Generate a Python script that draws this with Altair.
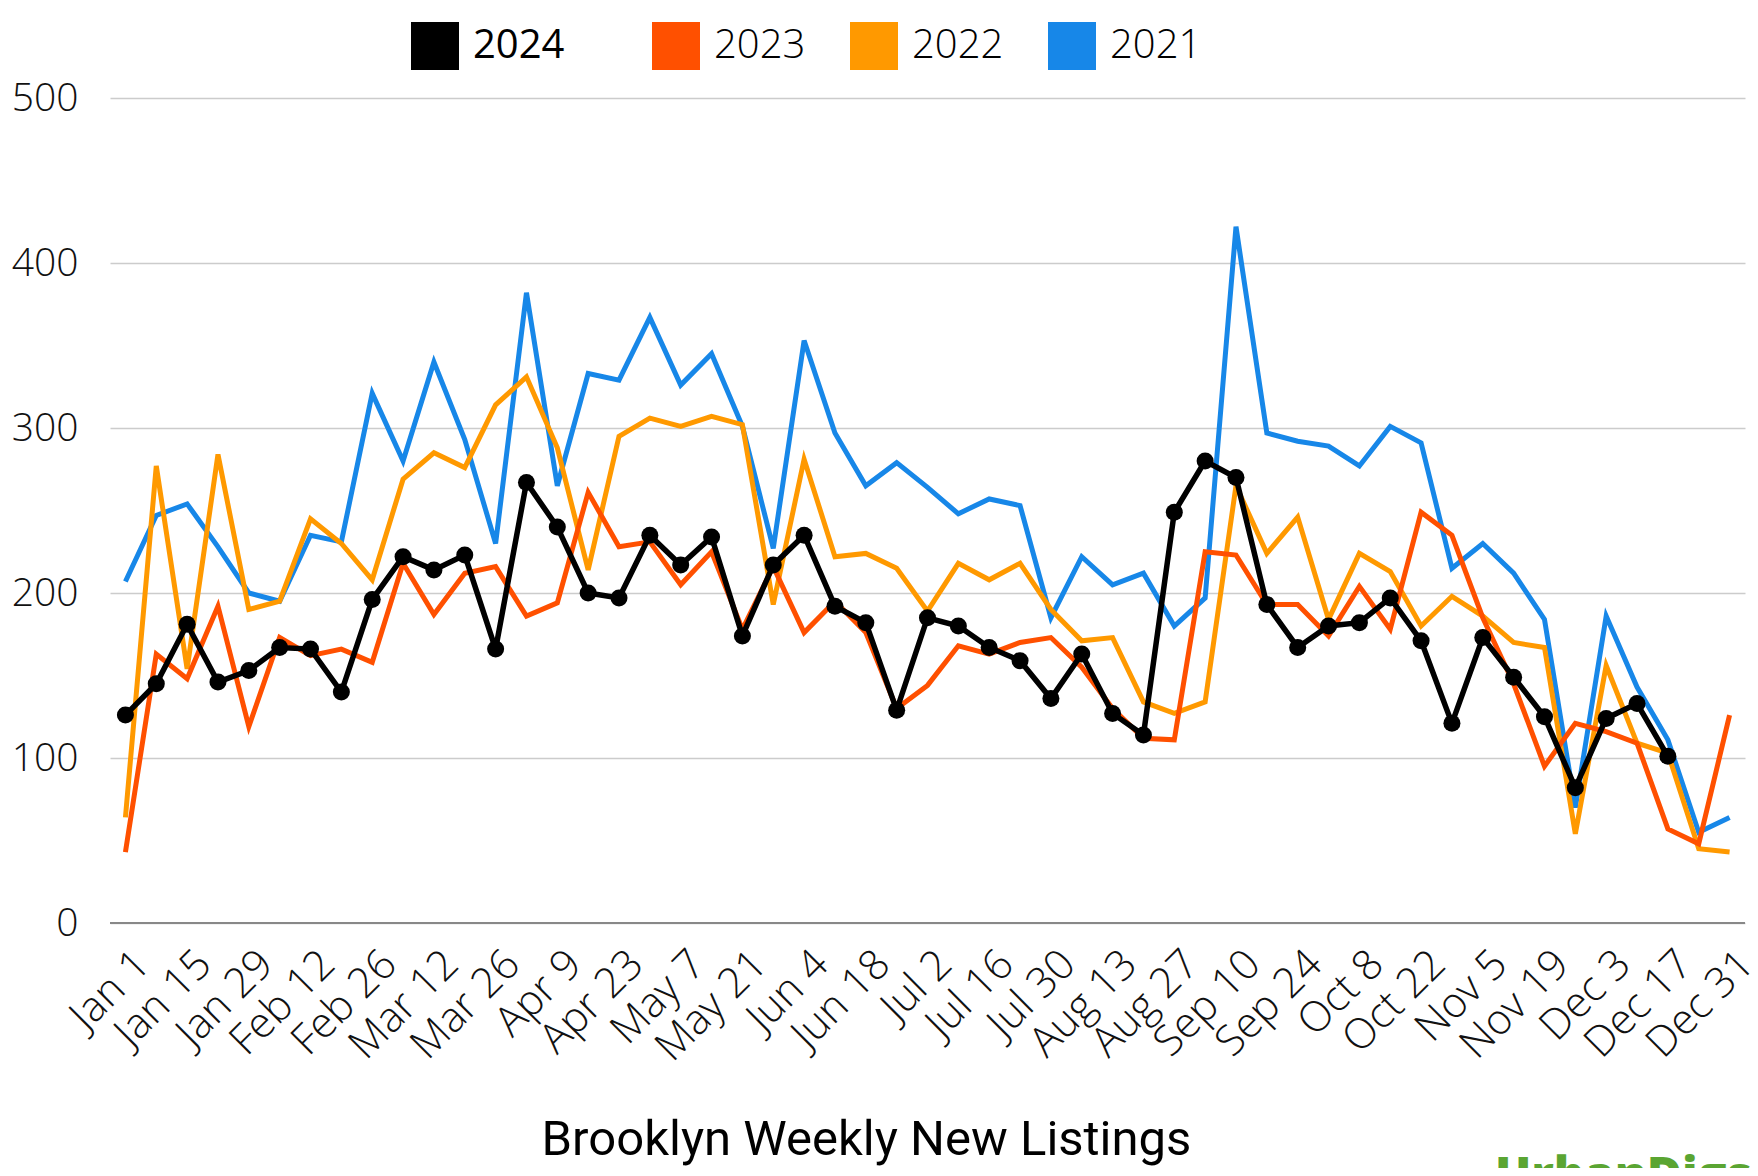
import altair as alt
import pandas as pd

weeks = ["Jan 1", "Jan 8", "Jan 15", "Jan 22", "Jan 29", "Feb 5", "Feb 12", "Feb 19", "Feb 26",
         "Mar 5", "Mar 12", "Mar 19", "Mar 26", "Apr 2", "Apr 9", "Apr 16", "Apr 23", "Apr 30",
         "May 7", "May 14", "May 21", "May 28", "Jun 4", "Jun 11", "Jun 18", "Jun 25",
         "Jul 2", "Jul 9", "Jul 16", "Jul 23", "Jul 30", "Aug 6", "Aug 13", "Aug 20", "Aug 27",
         "Sep 3", "Sep 10", "Sep 17", "Sep 24", "Oct 1", "Oct 8", "Oct 15", "Oct 22", "Oct 29",
         "Nov 5", "Nov 12", "Nov 19", "Nov 26", "Dec 3", "Dec 10", "Dec 17", "Dec 24", "Dec 31"]

tick_labels = ["Jan 1", "Jan 15", "Jan 29", "Feb 12", "Feb 26", "Mar 12", "Mar 26", "Apr 9",
               "Apr 23", "May 7", "May 21", "Jun 4", "Jun 18", "Jul 2", "Jul 16", "Jul 30",
               "Aug 13", "Aug 27", "Sep 10", "Sep 24", "Oct 8", "Oct 22", "Nov 5", "Nov 19",
               "Dec 3", "Dec 17", "Dec 31"]

v2024 = [126, 145, 181, 146, 153, 167, 166, 140, 196, 222, 214, 223, 166, 267, 240, 200, 197,
         235, 217, 234, 174, 217, 235, 192, 182, 129, 185, 180, 167, 159, 136, 163, 127, 114,
         249, 280, 270, 193, 167, 180, 182, 197, 171, 121, 173, 149, 125, 82, 124, 133, 101]

v2023 = [43, 163, 148, 192, 119, 173, 162, 166, 158, 218, 187, 212, 216, 186, 194, 261, 228,
         231, 205, 225, 178, 216, 176, 195, 176, 130, 144, 168, 163, 170, 173, 155, 130, 112,
         111, 225, 223, 193, 193, 174, 204, 178, 249, 235, 185, 145, 95, 121, 116, 109, 57, 48, 126]

v2022 = [64, 277, 154, 284, 190, 195, 245, 230, 208, 269, 285, 276, 314, 331, 288, 214, 295,
         306, 301, 307, 302, 193, 281, 222, 224, 215, 189, 218, 208, 218, 190, 171, 173, 134,
         127, 134, 265, 224, 246, 184, 224, 213, 180, 198, 186, 170, 167, 54, 156, 109, 103, 45, 43]

v2021 = [207, 247, 254, 228, 200, 195, 235, 231, 321, 280, 340, 293, 230, 382, 265, 333, 329,
         367, 326, 345, 301, 227, 353, 297, 265, 279, 264, 248, 257, 253, 185, 222, 205, 212,
         180, 197, 422, 297, 292, 289, 277, 301, 291, 215, 230, 212, 184, 70, 186, 143, 111, 55, 64]

prior_years = ["2023", "2022", "2021"]
prior_colors = ["#ff5000", "#ff9900", "#1787e8"]
current_year = ["2024"]
current_color = ["#000000"]

rows = []
for yr, vals in [("2021", v2021), ("2022", v2022), ("2023", v2023), ("2024", v2024)]:
    for i, v in enumerate(vals):
        rows.append({"week": weeks[i], "year": yr, "value": v})
df = pd.DataFrame(rows)

x_enc = alt.X(
    "week:O", sort=weeks,
    scale=alt.Scale(type="point", padding=0.5),
    axis=alt.Axis(
        values=tick_labels, labelAngle=315, labelAlign="right", labelBaseline="middle",
        labelFontSize=42, labelFont="Open Sans", labelFontWeight=300, labelColor="#111111",
        labelPadding=34, labelOffset=17, labelOverlap=False, labelBound=False,
        domain=False, ticks=False, grid=False,
        title="Brooklyn Weekly New Listings", titleFont="Roboto", titleFontSize=49,
        titleFontWeight="normal", titleColor="#000000", titleX=756, titleY=216,
        titleAlign="center", titleBaseline="middle",
    ),
)
y_enc = alt.Y(
    "value:Q",
    scale=alt.Scale(domain=[0, 500], nice=False),
    axis=alt.Axis(
        values=[0, 100, 200, 300, 400, 500], grid=True, gridColor="#cccccc", gridWidth=1.5,
        domain=False, ticks=False, labelFontSize=39, labelFont="Open Sans", labelFontWeight=300,
        labelColor="#111111", labelPadding=32, title=None,
    ),
)


def legend_for(x, weight, scale_name):
    return alt.Legend(
        title=None, orient="none", legendX=x, legendY=-76, direction="horizontal",
        symbolType="square", symbolSize=2304, symbolStrokeWidth=0,
        symbolFillColor=alt.ExprRef("scale('%s', datum.value)" % scale_name),
        labelFontSize=40, labelFont="Open Sans", labelColor="#000000",
        labelFontWeight=weight, labelOffset=14, columnPadding=44, padding=0, labelLimit=400,
    )


color_enc = alt.Color("year:N", scale=alt.Scale(domain=prior_years, range=prior_colors),
                      legend=legend_for(542, 300, "color"))
stroke_enc = alt.Stroke("year:N", scale=alt.Scale(domain=current_year, range=current_color),
                        legend=legend_for(301, 500, "stroke"))

base = alt.Chart(df)


def year_line(yr):
    return base.transform_filter(alt.datum.year == yr).mark_line(strokeWidth=5).encode(
        x=x_enc, y=y_enc, color=color_enc
    )


line_2024 = base.transform_filter(alt.datum.year == "2024").mark_line(strokeWidth=5.5).encode(
    x=x_enc, y=y_enc, stroke=stroke_enc
)

pts = base.transform_filter(alt.datum.year == "2024").mark_circle(
    size=290, opacity=1, color="#000000"
).encode(x=x_enc, y=y_enc)

zero = alt.Chart(pd.DataFrame({"z": [0]})).mark_rule(color="#888888", strokeWidth=2).encode(
    y=alt.Y("z:Q")
)

logo = alt.Chart(pd.DataFrame({"t": ["UrbanDigs"]})).mark_text(
    align="left", baseline="alphabetic", font="Open Sans", fontSize=48, fontWeight=800,
    color="#5aa532",
).encode(text="t:N", x=alt.value(1385), y=alt.value(1093))

chart = alt.layer(
    zero,
    year_line("2021"),
    year_line("2022"),
    year_line("2023"),
    line_2024,
    pts,
    logo,
).properties(
    width=1635, height=825,
    padding={"left": 102, "top": 90, "right": 5, "bottom": 245},
    autosize=alt.AutoSizeParams(type="none"),
).configure(background="#ffffff").configure_view(strokeWidth=0, stroke="transparent")

chart.save("out.html", embed_options={"renderer": "svg", "actions": False})
